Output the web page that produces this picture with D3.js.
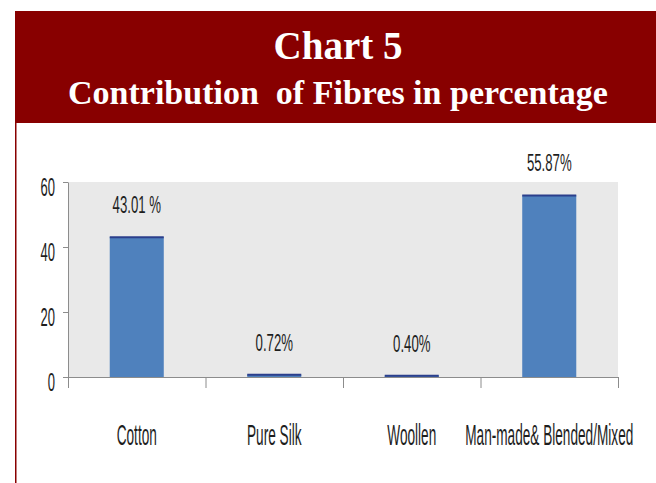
<!DOCTYPE html>
<meta charset="utf-8">
<style>
    body { margin: 0; background: #fff; }
    .axis path, .axis line { stroke: #8c8c8c; }
    .lbl { font-family: "Liberation Sans", Arial, sans-serif; fill: #1e1e1e; }
</style>
<svg width="656" height="483"></svg>
<script src="https://d3js.org/d3.v7.min.js"></script>
<script>
    // chart data
    var categories = ["Cotton", "Pure Silk", "Woollen", "Man-made& Blended/Mixed"];
    var values = [43.01, 0.72, 0.40, 55.87];
    var valueLabels = ["43.01 %", "0.72%", "0.40%", "55.87%"];
    var yTicks = [0, 20, 40, 60];

    var svg = d3.select("svg");

    // header box
    var red = "#880000";
    svg.append("rect")
        .attr("x", 15).attr("y", 11)
        .attr("width", 641).attr("height", 112)
        .attr("fill", red);
    svg.append("line")
        .attr("x1", 15.75).attr("x2", 15.75)
        .attr("y1", 123).attr("y2", 483)
        .attr("stroke", red).attr("stroke-width", 1.5);

    svg.append("text")
        .attr("x", 338).attr("y", 59)
        .attr("text-anchor", "middle")
        .style("font-family", "'Liberation Serif', 'Times New Roman', serif")
        .style("font-weight", "bold")
        .style("font-size", "39px")
        .attr("fill", "#fff")
        .text("Chart 5");

    svg.append("text")
        .attr("x", 338).attr("y", 104)
        .attr("text-anchor", "middle")
        .style("font-family", "'Liberation Serif', 'Times New Roman', serif")
        .style("font-weight", "bold")
        .style("font-size", "34px")
        .style("white-space", "pre")
        .attr("fill", "#fff")
        .text("Contribution  of Fibres in percentage");

    // plot
    var plotL = 68, plotR = 618, plotT = 182, plotB = 377;

    var x = d3.scaleBand()
        .domain(categories)
        .range([plotL, plotR])
        .paddingInner(0.607)
        .paddingOuter(0.3035);

    var xEdge = d3.scaleLinear().domain([0, categories.length]).range([plotL, plotR]);

    var y = d3.scaleLinear().domain([0, 60]).range([plotB, plotT]);

    svg.append("rect")
        .attr("x", plotL).attr("y", plotT)
        .attr("width", plotR - plotL).attr("height", plotB - plotT)
        .attr("fill", "#e9e9e9");

    svg.selectAll(".bar")
        .data(values)
        .enter().append("rect")
        .attr("class", "bar")
        .attr("x", function(d, i) { return x(categories[i]); })
        .attr("y", function(d) { return y(d); })
        .attr("width", x.bandwidth())
        .attr("height", function(d) { return plotB - y(d); })
        .attr("fill", "#4f81bd");

    svg.selectAll(".bartop")
        .data(values)
        .enter().append("line")
        .attr("class", "bartop")
        .attr("x1", function(d, i) { return x(categories[i]); })
        .attr("x2", function(d, i) { return x(categories[i]) + x.bandwidth(); })
        .attr("y1", function(d) { return y(d); })
        .attr("y2", function(d) { return y(d); })
        .attr("stroke", "#2b3f8c")
        .attr("stroke-width", 2);

    // y axis
    var sx = 0.52;
    var yAxis = svg.append("g")
        .attr("class", "axis")
        .attr("transform", "translate(" + plotL + ",0)")
        .call(d3.axisLeft(y).tickValues(yTicks).tickSize(5).tickSizeOuter(0));
    yAxis.selectAll("text")
        .attr("class", "lbl")
        .attr("x", -13 / sx)
        .attr("dy", 13)
        .attr("transform", "scale(" + sx + ",1)")
        .style("font-size", "25px");

    // x axis with ticks at category edges
    svg.append("g")
        .attr("class", "axis")
        .attr("transform", "translate(0," + plotB + ")")
        .call(d3.axisBottom(xEdge).tickValues(d3.range(categories.length + 1))
            .tickSize(11).tickSizeOuter(0).tickFormat(""));

    svg.selectAll(".xlbl")
        .data(categories)
        .enter().append("text")
        .attr("class", "lbl xlbl")
        .attr("text-anchor", "middle")
        .attr("transform", function(d) {
            return "translate(" + (x(d) + x.bandwidth() / 2) + ",445) scale(0.47,1)";
        })
        .style("font-size", "29px")
        .text(function(d) { return d; });

    // value labels
    svg.selectAll(".vlbl")
        .data(values)
        .enter().append("text")
        .attr("class", "lbl vlbl")
        .attr("text-anchor", "middle")
        .attr("transform", function(d, i) {
            return "translate(" + (x(categories[i]) + x.bandwidth() / 2) + "," + (y(d) - 24) + ") scale(0.55,1)";
        })
        .style("font-size", "24px")
        .text(function(d, i) { return valueLabels[i]; });
</script>
